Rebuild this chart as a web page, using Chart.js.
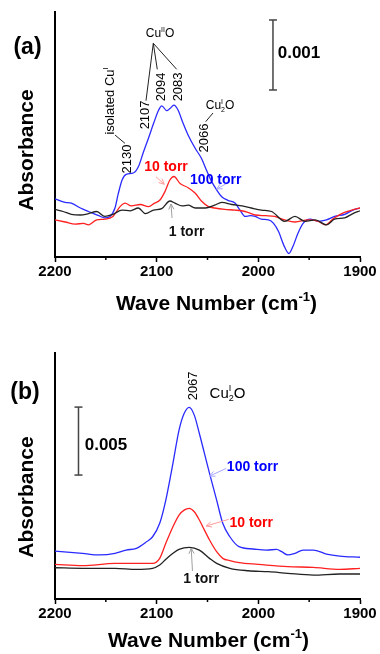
<!DOCTYPE html>
<html>
<head>
<meta charset="utf-8">
<script src="https://cdn.jsdelivr.net/npm/chart.js@4.4.1/dist/chart.umd.min.js"></script>
<style>
  html, body { margin: 0; padding: 0; background: #fff; }
  #wrap { position: relative; width: 380px; height: 654px; }
  canvas { position: absolute; left: 0; }
</style>
</head>
<body>
<div id="wrap">
  <canvas id="chartA" width="380" height="327" style="top:0"></canvas>
  <canvas id="chartB" width="380" height="327" style="top:327px"></canvas>
</div>
<script>
// ===== DATA (absorbance in units of 10^-3) =====
const xTicks = [2200, 2100, 2000, 1900];
const minorTicks = [2150, 2050, 1950];

// panel (a)
const wnA100 = [2200,2190,2184,2175,2167,2157,2151,2146,2141,2138,2134,2130,2123,2118,2113,2108,2103,2098,2095,2090,2087,2083,2079,2074,2069,2062,2056,2051,2046,2041,2036,2030,2023,2018,2013,2008,2003,1997,1990,1985,1980,1975,1970,1966,1961,1956,1949,1941,1933,1925,1915,1907,1900];
const absA100 = [0.83,0.78,0.77,0.70,0.65,0.59,0.56,0.58,0.70,0.89,1.10,1.18,1.20,1.29,1.50,1.70,1.91,2.10,2.16,2.09,2.12,2.17,2.10,1.91,1.74,1.55,1.41,1.24,1.08,0.96,0.86,0.81,0.77,0.67,0.58,0.59,0.58,0.54,0.53,0.48,0.36,0.17,0.05,0.15,0.34,0.48,0.54,0.51,0.53,0.58,0.61,0.67,0.70];
const wnA10 = [2200,2190,2180,2172,2167,2159,2151,2143,2136,2131,2125,2116,2108,2102,2097,2092,2087,2083,2077,2069,2062,2056,2049,2043,2033,2023,2013,2003,1993,1984,1974,1964,1951,1941,1934,1926,1918,1908,1900];
const absA10 = [0.53,0.50,0.47,0.48,0.46,0.53,0.54,0.58,0.72,0.77,0.73,0.75,0.72,0.77,0.81,0.93,1.10,1.15,1.05,0.99,0.91,0.80,0.72,0.70,0.68,0.67,0.65,0.60,0.59,0.58,0.53,0.50,0.53,0.51,0.46,0.55,0.62,0.67,0.70];
const wnA1 = [2200,2192,2184,2175,2167,2159,2151,2143,2134,2126,2118,2111,2103,2095,2087,2082,2075,2069,2062,2052,2043,2036,2026,2016,2007,1997,1987,1974,1964,1954,1944,1933,1925,1915,1907,1900];
const absA1 = [0.68,0.65,0.61,0.60,0.62,0.65,0.58,0.61,0.67,0.66,0.70,0.62,0.67,0.69,0.80,0.77,0.73,0.74,0.70,0.70,0.74,0.78,0.75,0.73,0.70,0.67,0.65,0.51,0.58,0.51,0.53,0.46,0.54,0.56,0.62,0.66];

// panel (b)
const wnB100 = [2200,2173,2156,2141,2130,2120,2110,2104,2097,2091,2084,2078,2073,2068,2063,2058,2053,2048,2041,2035,2028,2019,2005,1992,1982,1977,1971,1964,1956,1946,1933,1920,1900];
const absB100 = [3.53,3.36,3.24,3.36,3.60,3.73,4.21,4.58,5.57,7.28,9.98,12.43,13.65,14.10,13.53,12.18,10.71,9.24,7.28,5.57,4.58,3.85,3.68,3.60,3.65,3.48,3.24,3.36,3.60,3.60,3.31,3.16,3.07];
const wnB10 = [2200,2173,2141,2120,2104,2097,2091,2084,2078,2073,2068,2063,2058,2053,2048,2041,2035,2028,2019,2000,1971,1946,1920,1900];
const absB10 = [2.55,2.45,2.62,2.62,2.62,2.99,4.10,5.32,6.18,6.54,6.67,6.42,5.81,5.07,4.34,3.48,2.99,2.82,2.67,2.55,2.38,2.33,2.18,2.26];
const wnB1 = [2200,2173,2141,2120,2104,2097,2091,2084,2078,2068,2058,2048,2041,2028,2010,1990,1971,1946,1920,1900];
const absB1 = [2.30,2.26,2.26,2.18,2.26,2.50,2.92,3.36,3.65,3.80,3.60,2.99,2.62,2.26,2.08,2.01,1.89,1.76,1.84,1.84];

// scale bars: [wave number, bottom, top]
const barA = [1985.6, 2.386, 3.386];   // 0.001
const barB = [2176.9, 9.12, 14.12];    // 0.005

const FONT = '"Liberation Sans", Arial, sans-serif';
const toXY = (xs, ys) => xs.map((v, i) => ({ x: v, y: ys[i] }));

// ===== DRAW HELPERS =====
function richText(ctx, parts, cx, cy, size, bold, color, rot) {
  const w = bold ? 'bold ' : '';
  const small = Math.round(size * 0.62);
  let total = 0;
  const segs = parts.map(p => {
    const s = typeof p === 'string' ? { t: p } : p;
    if (s.t !== undefined) {
      ctx.font = w + size + 'px ' + FONT;
      s.wd = ctx.measureText(s.t).width;
    } else {
      ctx.font = w + small + 'px ' + FONT;
      s.wd = Math.max(s.sup ? ctx.measureText(s.sup).width : 0, s.sub ? ctx.measureText(s.sub).width : 0);
    }
    total += s.wd;
    return s;
  });
  ctx.save();
  ctx.translate(cx, cy);
  if (rot) ctx.rotate(rot);
  ctx.fillStyle = color;
  ctx.textBaseline = 'alphabetic';
  ctx.textAlign = 'left';
  let xx = -total / 2;
  const base = size * 0.36;
  segs.forEach(s => {
    if (s.t !== undefined) {
      ctx.font = w + size + 'px ' + FONT;
      ctx.fillText(s.t, xx, base);
    } else {
      ctx.font = w + small + 'px ' + FONT;
      if (s.sup) ctx.fillText(s.sup, xx, base - size * 0.42);
      if (s.sub) ctx.fillText(s.sub, xx, base + size * 0.22);
    }
    xx += s.wd;
  });
  ctx.restore();
}

function line(ctx, x1, y1, x2, y2, color, lw) {
  ctx.save();
  ctx.strokeStyle = color; ctx.lineWidth = lw;
  ctx.beginPath(); ctx.moveTo(x1, y1); ctx.lineTo(x2, y2); ctx.stroke();
  ctx.restore();
}

function arrow(ctx, x1, y1, x2, y2, color) {
  const a = Math.atan2(y2 - y1, x2 - x1), h = 6;
  ctx.save();
  ctx.strokeStyle = color; ctx.lineWidth = 1;
  ctx.beginPath();
  ctx.moveTo(x1, y1); ctx.lineTo(x2, y2);
  ctx.moveTo(x2 - h * Math.cos(a - 0.45), y2 - h * Math.sin(a - 0.45));
  ctx.lineTo(x2, y2);
  ctx.lineTo(x2 - h * Math.cos(a + 0.45), y2 - h * Math.sin(a + 0.45));
  ctx.stroke();
  ctx.restore();
}

const UP = -Math.PI / 2;
const xTitle = ['Wave Number (cm', { sup: '-1' }, ')'];

// annotation lists: positions in data units (wave number, 10^-3 abs) unless "px"
const notes = {
  chartA: {
    bar: barA, barLabel: '0.001', barLabelAt: [299, 52],
    panel: '(a)', panelAt: [27.5, 46], yTitleAt: [25.5, 150], xTitleAt: [216.5, 302],
    texts: [
      { at: [2096.7, 3.20], parts: ['Cu', { sup: 'II' }, 'O'], size: 12 },
      { at: [2111.8, 2.03], parts: ['2107'], size: 13, rot: UP },
      { at: [2096.0, 2.43], parts: ['2094'], size: 13, rot: UP },
      { at: [2079.7, 2.43], parts: ['2083'], size: 13, rot: UP },
      { at: [2146.9, 2.23], parts: ['isolated Cu', { sup: 'I' }], size: 13, rot: UP },
      { at: [2129.5, 1.40], parts: ['2130'], size: 13, rot: UP },
      { at: [2054.4, 1.70], parts: ['2066'], size: 13, rot: UP },
      { at: [2037.7, 2.17], parts: ['Cu', { sup: 'I', sub: '2' }, 'O'], size: 12 },
      { at: [2090.8, 1.30], parts: ['10 torr'], size: 14, bold: true, color: '#ff0000' },
      { at: [2041.9, 1.11], parts: ['100 torr'], size: 14, bold: true, color: '#0000ff' },
      { at: [2070.5, 0.37], parts: ['1 torr'], size: 14, bold: true, color: '#111' }
    ],
    lines: [
      [2103.3, 3.053, 2110.5, 2.233], [2103.3, 3.053, 2099.4, 2.681], [2103.3, 3.053, 2080.3, 2.681],
      [2141.0, 1.743, 2131.2, 1.624], [2051.8, 1.933, 2044.6, 2.057]
    ],
    arrows: [
      [2100.7, 1.147, 2092.5, 1.039, '#ff9c9c'],
      [2027.9, 1.076, 2041.0, 0.971, '#a8a8ff'],
      [2084.9, 0.557, 2085.9, 0.757, '#a0a0a0']
    ]
  },
  chartB: {
    bar: barB, barLabel: '0.005', barLabelAt: [106, 117],
    panel: '(b)', panelAt: [25, 64], yTitleAt: [25, 170], xTitleAt: [208.5, 312],
    texts: [
      { at: [2064.5, 15.68], parts: ['2067'], size: 13, rot: UP },
      { at: [2030.3, 15.22], parts: ['Cu', { sup: 'I', sub: '2' }, 'O'], size: 15 },
      { at: [2005.7, 9.78], parts: ['100 torr'], size: 14, bold: true, color: '#0000ff' },
      { at: [2007.0, 5.68], parts: ['10 torr'], size: 14, bold: true, color: '#ff0000' },
      { at: [2056.2, 1.58], parts: ['1 torr'], size: 14, bold: true, color: '#111' }
    ],
    lines: [],
    arrows: [
      [2031.6, 9.61, 2048.0, 9.04, '#a8a8ff'],
      [2029.1, 5.86, 2051.3, 5.37, '#ff9c9c'],
      [2064.8, 2.06, 2066.0, 3.73, '#a0a0a0']
    ]
  }
};

const overlay = {
  id: 'overlay',
  afterDraw(chart) {
    const n = notes[chart.canvas.id];
    const { ctx, scales: { x, y }, chartArea } = chart;
    const px = v => x.getPixelForValue(v), py = v => y.getPixelForValue(v);
    // minor ticks
    minorTicks.forEach(t => line(ctx, px(t), chartArea.bottom, px(t), chartArea.bottom + 3, '#000', 1.5));
    // scale bar
    const [bx, b0, b1] = n.bar;
    line(ctx, px(bx), py(b0), px(bx), py(b1), '#444', 1.5);
    line(ctx, px(bx) - 4, py(b0), px(bx) + 4, py(b0), '#444', 1.5);
    line(ctx, px(bx) - 4, py(b1), px(bx) + 4, py(b1), '#444', 1.5);
    richText(ctx, [n.barLabel], n.barLabelAt[0], n.barLabelAt[1], 17, true, '#000');
    // titles
    richText(ctx, [n.panel], n.panelAt[0], n.panelAt[1], 23, true, '#000');
    richText(ctx, ['Absorbance'], n.yTitleAt[0], n.yTitleAt[1], 21, true, '#000', UP);
    richText(ctx, xTitle, n.xTitleAt[0], n.xTitleAt[1], 21, true, '#000');
    // annotations
    n.lines.forEach(l => line(ctx, px(l[0]), py(l[1]), px(l[2]), py(l[3]), '#222', 1));
    n.arrows.forEach(a => arrow(ctx, px(a[0]), py(a[1]), px(a[2]), py(a[3]), a[4]));
    n.texts.forEach(t => richText(ctx, t.parts, px(t.at[0]), py(t.at[1]), t.size, !!t.bold, t.color || '#000', t.rot));
  }
};

function makeChart(id, series, yMax, top, bottom) {
  const H = 327;
  return new Chart(document.getElementById(id), {
    type: 'line',
    data: {
      datasets: series.map(s => ({
        data: toXY(s.x, s.y),
        borderColor: s.color,
        borderWidth: 1.3,
        pointRadius: 0,
        fill: false,
        cubicInterpolationMode: 'monotone'
      }))
    },
    options: {
      responsive: false,
      animation: false,
      devicePixelRatio: 1,
      layout: { padding: { top: top, right: 20, left: 0, bottom: 0 } },
      plugins: { legend: { display: false }, tooltip: { enabled: false } },
      scales: {
        x: {
          type: 'linear', min: 1900, max: 2200, reverse: true,
          afterBuildTicks: s => { s.ticks = xTicks.map(v => ({ value: v })); },
          afterFit: s => { s.height = H - bottom; },
          ticks: { color: '#000', font: { family: FONT, size: 15, weight: 'bold' }, padding: 1, maxRotation: 0,
                   callback: v => String(v) },
          grid: { display: true, drawOnChartArea: false, drawTicks: true, tickLength: 5, color: '#000', tickWidth: 1.5 },
          border: { display: true, color: '#000', width: 2 }
        },
        y: {
          min: 0, max: yMax,
          afterFit: s => { s.width = 55; },
          ticks: { display: false },
          grid: { display: false },
          border: { display: true, color: '#000', width: 2 }
        }
      }
    },
    plugins: [overlay]
  });
}

makeChart('chartA', [
  { x: wnA1, y: absA1, color: '#222222' },
  { x: wnA10, y: absA10, color: '#ff2020' },
  { x: wnA100, y: absA100, color: '#2a2aff' }
], 3.5, 12, 257);

makeChart('chartB', [
  { x: wnB1, y: absB1, color: '#222222' },
  { x: wnB10, y: absB10, color: '#ff2020' },
  { x: wnB100, y: absB100, color: '#2a2aff' }
], 18.1, 26, 272);
</script>
</body>
</html>
